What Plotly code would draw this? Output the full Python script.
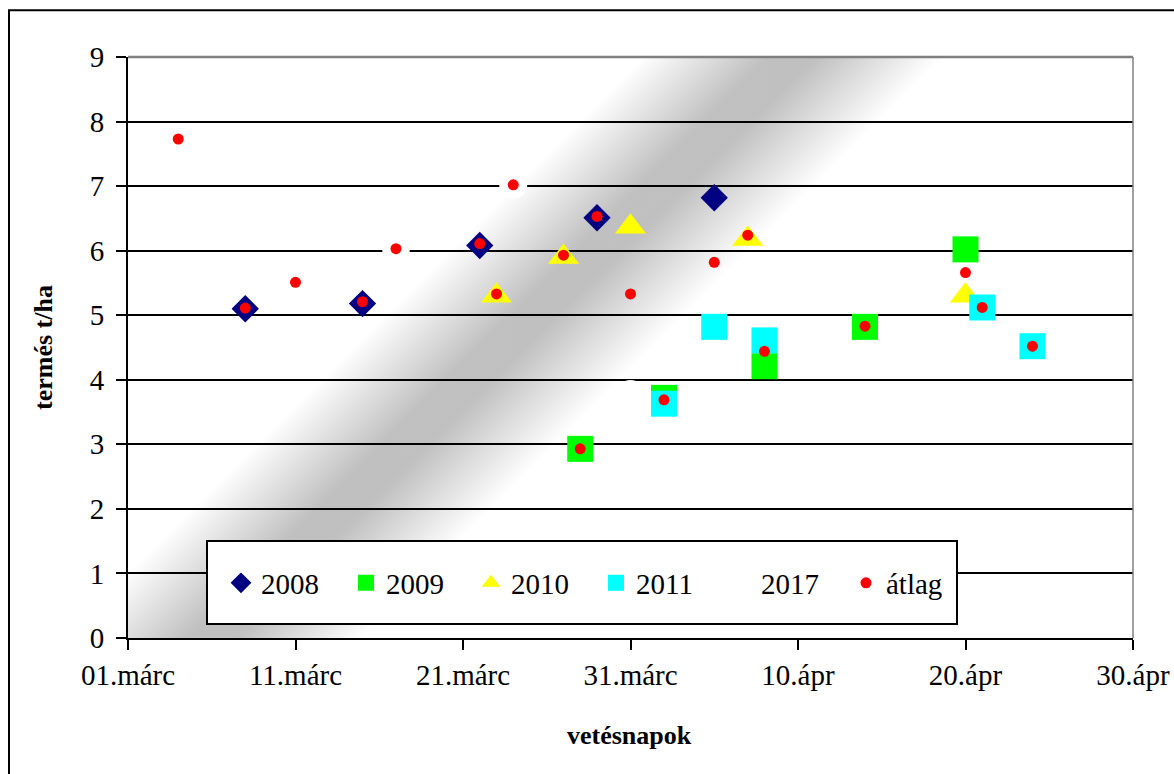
import plotly.graph_objects as go

# ---- data (day offsets from 01.márc) ----
tick_days = [0, 10, 20, 30, 40, 50, 60]
tick_labels = ["01.márc", "11.márc", "21.márc", "31.márc", "10.ápr", "20.ápr", "30.ápr"]

d2008 = [7, 14, 21, 28, 35]
y2008 = [5.10, 5.18, 6.08, 6.51, 6.82]

d2009 = [27, 32, 38, 44, 50]
y2009 = [2.93, 3.72, 4.21, 4.82, 6.02]

d2010 = [22, 26, 30, 37, 50]
y2010 = [5.30, 5.90, 6.37, 6.18, 5.30]

d2011 = [32, 35, 38, 51, 54]
y2011 = [3.63, 4.82, 4.61, 5.12, 4.52]

d2017 = [16, 23, 30]
y2017 = [6.03, 7.02, 3.78]

d_avg = [3, 7, 10, 14, 16, 21, 22, 23, 26, 27, 28, 30, 32, 35, 37, 38, 44, 50, 51, 54]
y_avg = [7.73, 5.11, 5.51, 5.21, 6.03, 6.11, 5.33, 7.02, 5.93, 2.93, 6.53, 5.33,
         3.69, 5.82, 6.24, 4.44, 4.83, 5.66, 5.12, 4.52]

FONT = "Liberation Serif"
W, H = 1174, 774
PL, PR, PT, PB = 128, 1133, 57, 638   # plot area in page pixels
ML, MT = PL, PT
MR = W - PR
MB = H - PB
PW, PH = PR - PL, PB - PT
XR, YR = (0, 60), (0, 9)
PX_X = PW / (XR[1] - XR[0])
PX_Y = PH / (YR[1] - YR[0])

fig = go.Figure()

def add(x, y, name, symbol, color, size):
    fig.add_trace(go.Scatter(x=x, y=y, mode="markers", name=name,
                             marker=dict(symbol=symbol, color=color, size=size,
                                         line=dict(width=0)),
                             hoverinfo="x+y+name"))

add(d2008, y2008, "2008", "diamond", "#000080", 21)
add(d2009, y2009, "2009", "square", "#00FF00", 26)
add(d2010, y2010, "2010", "triangle-up", "#FFFF00", 27)
add(d2011, y2011, "2011", "square", "#00FFFF", 26)
add(d2017, y2017, "2017", "circle", "#FFFFFF", 28)
add(d_avg, y_avg, "átlag", "circle", "#FF0000", 11)

# ---- diagonal gradient band (background decoration) ----
shapes = []
C = 850  # x_px + y_px (page) of band centre
step = 4
for k in range(-160, 160, step):
    mid = k + step / 2
    t = min(max((abs(mid) - 25) / 125, 0), 1)
    g = int(round(192 + 63 * t))
    if g >= 255:
        continue
    pts = []
    for kk, vs in ((k, (-1, 10)), (k + step + 0.8, (10, -1))):
        for v in vs:
            ypx = PB - PX_Y * v
            xpx = C + kk - ypx
            d = (xpx - PL) / PX_X
            pts.append((d, v))
    path = "M" + " L".join(f"{a:.3f},{b:.3f}" for a, b in pts) + " Z"
    shapes.append(dict(type="path", path=path, xref="x", yref="y", layer="below",
                       fillcolor=f"rgb({g},{g},{g})", line=dict(width=0)))

def px2paper_x(px):
    return (px - PL) / PW

def px2paper_y(py):
    return (PB - py) / PH

# plot-area top/right gray border
shapes.append(dict(type="line", xref="paper", yref="paper", x0=0, x1=1, y0=1, y1=1,
                   line=dict(color="#808080", width=2.5), layer="above"))
shapes.append(dict(type="line", xref="paper", yref="paper", x0=1, x1=1, y0=0, y1=1,
                   line=dict(color="#808080", width=1.5), layer="above"))
# legend box
shapes.append(dict(type="rect", xref="paper", yref="paper",
                   x0=px2paper_x(207), x1=px2paper_x(957),
                   y0=px2paper_y(624), y1=px2paper_y(541),
                   fillcolor="white", line=dict(color="black", width=2), layer="above"))
# outer chart border (left and top edges visible in the reference)
shapes.append(dict(type="rect", xref="paper", yref="paper",
                   x0=px2paper_x(9), x1=px2paper_x(1200),
                   y0=px2paper_y(800), y1=px2paper_y(10.3),
                   fillcolor="rgba(0,0,0,0)", line=dict(color="black", width=2), layer="above"))

fig.update_layout(
    width=W, height=H, autosize=False,
    margin=dict(l=ML, r=MR, t=MT, b=MB, pad=0, autoexpand=False),
    paper_bgcolor="white", plot_bgcolor="white",
    font=dict(family=FONT, size=29, color="black"),
    showlegend=True,
    legend=dict(orientation="h", x=px2paper_x(221), xanchor="left",
                y=px2paper_y(583), yanchor="middle",
                bgcolor="rgba(0,0,0,0)", borderwidth=0,
                font=dict(family=FONT, size=29, color="black"),
                entrywidth=80, entrywidthmode="pixels", itemsizing="trace"),
    shapes=shapes,
    xaxis=dict(range=list(XR), tickmode="array", tickvals=tick_days, ticktext=tick_labels,
               showgrid=False, zeroline=False, showline=True, linecolor="black", linewidth=2,
               ticks="outside", ticklen=10, tickwidth=2, tickcolor="black", automargin=False,
               ticklabeloverflow="allow",
               tickfont=dict(family=FONT, size=29, color="black")),
    yaxis=dict(range=list(YR), tickmode="array", tickvals=list(range(0, 10)),
               showgrid=True, gridcolor="black", gridwidth=1.5, zeroline=False,
               showline=True, linecolor="black", linewidth=2, automargin=False,
               ticks="outside", ticklen=10, tickwidth=2, tickcolor="black",
               ticklabelstandoff=6, ticklabeloverflow="allow",
               tickfont=dict(family=FONT, size=29, color="black")),
    annotations=[
        dict(text="<b>vetésnapok</b>", xref="paper", yref="paper",
             x=px2paper_x(629), y=px2paper_y(735), xanchor="center", yanchor="middle",
             showarrow=False, font=dict(family=FONT, size=26, color="black")),
        dict(text="<b>termés t/ha</b>", xref="paper", yref="paper",
             x=px2paper_x(43), y=px2paper_y(348), xanchor="center", yanchor="middle",
             textangle=-90, showarrow=False, font=dict(family=FONT, size=26, color="black")),
    ],
)

# remove the default 8px page margin so the 1174x774 figure fills the window exactly
fig.write_html("out.html",
               config={"displayModeBar": False},
               post_script="document.body.style.margin='0';document.body.style.overflow='hidden';")
